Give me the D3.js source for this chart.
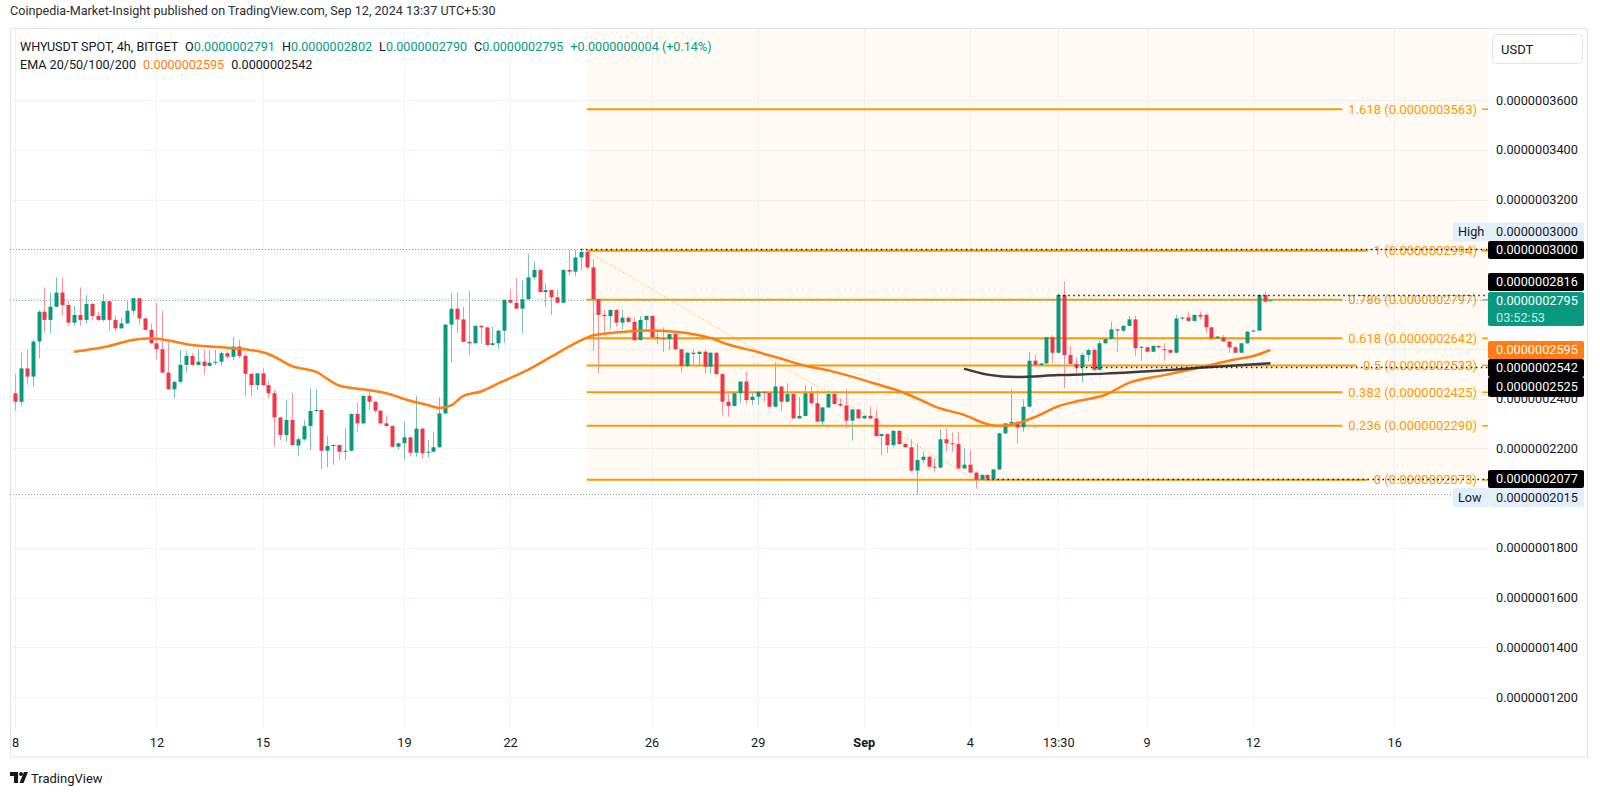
<!DOCTYPE html>
<html>
<head>
<meta charset="utf-8">
<script src="https://cdn.jsdelivr.net/npm/d3@7"></script>
<style>
  body { margin: 0; background: #fff; }
  svg { display: block; font-family: Roboto, "Noto Sans", sans-serif; }
</style>
</head>
<body>
<svg id="chart" width="1600" height="796"></svg>
<script>
// WHYUSDT 4h candles, prices in units of 1e-10 USDT, first bar Aug 8 01:30
var opens = [2421,2387,2521,2488,2629,2749,2716,2769,2826,2776, 2705,2736,2716,2780,2732,2716,2791,2716,2682,2702,
  2753,2803,2722,2676,2622,2598,2504,2437,2467,2535, 2571,2535,2548,2531,2544,2548,2582,2568,2609,2571,
  2499,2454,2501,2454,2421,2324,2253,2314,2211,2236, 2289,2350,2354,2190,2209,2213,2186,2190,2338,2300,
  2411,2387,2351,2300,2289,2206,2220,2244,2182,2279, 2182,2186,2204,2340,2697,2761,2718,2628,2622,2692,
  2686,2615,2622,2673,2796,2785,2761,2799,2887,2917, 2828,2836,2807,2785,2917,2910,2967,2989,2927,2799,
  2736,2731,2756,2705,2725,2708,2635,2716,2732,2646, 2642,2638,2659,2598,2531,2584,2579,2588,2528,2584,
  2498,2387,2370,2421,2468,2394,2407,2427,2423,2367, 2448,2387,2418,2320,2330,2421,2381,2307,2364,2418,
  2378,2372,2311,2356,2320,2330,2320,2249,2257,2213, 2270,2217,2204,2110,2153,2166,2126,2122,2236,2220,
  2217,2119,2134,2102,2073,2093,2077,2115,2260,2300, 2306,2284,2367,2552,2535,2541,2646,2584,2816,2575,
  2539,2525,2575,2595,2515,2622,2639,2678,2673,2692, 2718,2604,2606,2588,2611,2598,2595,2584,2722,2726,
  2712,2736,2736,2686,2642,2646,2629,2606,2584,2622, 2669,2673,2816,2791];
var highs = [2499,2584,2598,2638,2755,2847,2826,2887,2887,2790, 2772,2847,2816,2785,2749,2820,2795,2732,2726,2791,
  2805,2805,2725,2702,2785,2753,2635,2470,2595,2592, 2582,2598,2598,2595,2595,2590,2590,2646,2635,2579,
  2502,2503,2521,2470,2434,2326,2392,2421,2245,2314, 2441,2437,2356,2249,2216,2215,2280,2340,2385,2411,
  2434,2390,2353,2332,2291,2222,2307,2246,2410,2281, 2233,2267,2405,2700,2825,2825,2769,2832,2694,2694,
  2688,2689,2675,2798,2839,2883,2876,2981,2949,2919, 2863,2838,2838,2919,2997,2997,3000,2994,2960,2801,
  2756,2758,2758,2756,2727,2725,2732,2734,2734,2675, 2686,2661,2661,2600,2586,2598,2590,2595,2586,2586,
  2500,2418,2423,2470,2508,2423,2429,2429,2425,2544, 2450,2461,2420,2407,2454,2450,2434,2366,2434,2420,
  2401,2437,2358,2358,2332,2367,2354,2259,2259,2272, 2272,2222,2236,2220,2186,2168,2160,2276,2280,2263,
  2267,2200,2193,2104,2095,2095,2117,2262,2302,2437, 2308,2397,2588,2575,2543,2648,2655,2823,2870,2611,
  2565,2584,2602,2600,2633,2641,2709,2682,2694,2732, 2732,2610,2608,2615,2615,2622,2597,2736,2728,2749,
  2738,2749,2740,2688,2651,2655,2631,2611,2624,2671, 2678,2818,2830,2802];
var lows = [2351,2371,2454,2448,2562,2669,2662,2767,2736,2692, 2692,2692,2700,2713,2712,2709,2673,2669,2680,2698,
  2736,2696,2674,2620,2558,2502,2435,2401,2461,2504, 2532,2532,2495,2529,2535,2531,2560,2555,2560,2408,
  2408,2434,2450,2401,2207,2233,2227,2210,2169,2230, 2193,2345,2115,2123,2133,2153,2153,2186,2264,2298,
  2354,2343,2298,2287,2204,2193,2153,2169,2166,2158, 2163,2184,2202,2338,2544,2662,2626,2575,2620,2622,
  2613,2613,2598,2624,2783,2759,2662,2797,2879,2826, 2769,2736,2783,2783,2896,2892,2914,2920,2592,2501,
  2659,2678,2689,2678,2706,2628,2633,2675,2644,2619, 2588,2595,2596,2504,2525,2528,2528,2501,2501,2496,
  2334,2327,2368,2381,2378,2374,2374,2387,2356,2365, 2351,2385,2318,2318,2328,2379,2305,2293,2362,2376,
  2366,2280,2230,2318,2318,2318,2247,2173,2180,2204, 2215,2202,2106,2015,2139,2124,2106,2120,2186,2186,
  2117,2117,2100,2038,2071,2075,2075,2113,2258,2298, 2220,2267,2365,2533,2533,2539,2541,2582,2441,2537,
  2501,2464,2548,2513,2513,2620,2637,2588,2667,2690, 2571,2552,2586,2586,2604,2552,2580,2582,2713,2710,
  2710,2718,2662,2640,2640,2627,2584,2582,2582,2620, 2667,2671,2787,2790];
var closes = [2387,2521,2488,2629,2749,2716,2769,2826,2776,2705, 2736,2716,2780,2732,2716,2791,2716,2682,2702,2753,
  2803,2722,2676,2622,2598,2504,2437,2467,2535,2571, 2535,2548,2531,2544,2548,2582,2568,2609,2571,2499,
  2454,2501,2454,2421,2324,2253,2314,2213,2236,2289, 2350,2354,2190,2209,2213,2186,2190,2338,2300,2411,
  2387,2351,2300,2289,2206,2220,2244,2182,2279,2180, 2186,2204,2340,2697,2761,2718,2628,2622,2692,2686,
  2615,2622,2673,2796,2785,2761,2799,2887,2917,2828, 2836,2807,2785,2917,2910,2967,2989,2927,2799,2736,
  2731,2756,2705,2725,2708,2635,2716,2732,2646,2642, 2638,2659,2598,2531,2584,2579,2588,2528,2584,2498,
  2387,2370,2421,2468,2394,2407,2427,2423,2367,2448, 2387,2418,2320,2330,2421,2381,2307,2364,2418,2378,
  2372,2311,2356,2320,2330,2320,2249,2257,2213,2270, 2217,2204,2110,2153,2166,2126,2122,2236,2220,2217,
  2119,2134,2102,2073,2093,2077,2115,2260,2300,2306, 2284,2367,2552,2535,2541,2646,2584,2816,2575,2539,
  2525,2575,2595,2515,2622,2639,2678,2673,2692,2718, 2602,2608,2588,2611,2606,2595,2584,2722,2726,2712,
  2736,2729,2686,2642,2649,2629,2606,2584,2622,2669, 2673,2816,2789,2795];

// EMA lines (bar index, value)
var emaFastIdx = [10,15,20,23,26,30,35,40,43,47,51,55,60,63,67,70,72,74,76,79,82,87,91,95,98,101,104,107,112,116,118,121,126,130,134,138,144,147,150,154,156,161,165,167,170,173,177,180,185,189,195,201,207,210,213];
var emaFastVal = [2588,2606,2635,2642,2633,2615,2606,2595,2579,2530,2508,2452,2434,2421,2391,2374,2362,2372,2410,2428,2461,2515,2568,2622,2653,2663,2669,2673,2668,2654,2643,2617,2587,2560,2532,2513,2474,2452,2430,2390,2368,2334,2297,2290,2300,2325,2369,2388,2415,2463,2494,2525,2557,2570,2595];
var emaSlowIdx = [161,165,170,177,185,196,205,213];
var emaSlowVal = [2520,2496,2486,2494,2500,2515,2530,2542];

// fib retracement
var fibRatios = ['1.618','1','0.786','0.618','0.5','0.382','0.236','0'];
var fibPrices = [3563,2994,2797,2642,2533,2425,2290,2073];
var fibFrom = 97, fibTo = 163;

// horizontal lines
var hLinePrices = [3000,2816,2525,2077];
var hLineFrom = [96,177,180,165];

var priceTicks = d3.range(1200, 3601, 200);
var tickDates = ['2024-08-08T01:30:00Z','2024-08-12T01:30:00Z','2024-08-15T01:30:00Z','2024-08-19T01:30:00Z',
  '2024-08-22T01:30:00Z','2024-08-26T01:30:00Z','2024-08-29T01:30:00Z','2024-09-01T01:30:00Z',
  '2024-09-04T01:30:00Z','2024-09-06T13:30:00Z','2024-09-09T01:30:00Z','2024-09-12T01:30:00Z','2024-09-16T01:30:00Z'];
var tickLabels = ['8','12','15','19','22','26','29','Sep','4','13:30','9','12','16'];

var up = '#089981', down = '#f23645', ink = '#131722';
var paneL = 10, paneR = 1488, paneT = 29, paneB = 727;

var start = Date.UTC(2024, 7, 8, 1, 30), H4 = 4 * 3600 * 1000;
var time = function(i) { return new Date(start + i * H4); };
var fmt = function(v) { return (v / 1e10).toFixed(10); };

var x = d3.scaleUtc().domain([time(0), time(opens.length - 1)]).range([15, 1270.4]);
var y = d3.scaleLinear().domain([1200, 3600]).range([697, 100]);

var svg = d3.select('#chart');

svg.append('defs').append('clipPath').attr('id', 'pane')
  .append('rect').attr('x', paneL).attr('y', paneT).attr('width', paneR - paneL).attr('height', paneB - paneT);

// frame
svg.append('rect').attr('x', 10.5).attr('y', 28.5).attr('width', 1577).attr('height', 728.5)
  .attr('fill', 'none').attr('stroke', '#e0e3eb');

// grid
var grid = svg.append('g');
grid.selectAll('.vg').data(tickDates).enter().append('line')
  .attr('x1', function(d) { return Math.round(x(new Date(d))) + 0.5; })
  .attr('x2', function(d) { return Math.round(x(new Date(d))) + 0.5; })
  .attr('y1', paneT).attr('y2', paneB).attr('stroke', '#f0f3fa');
grid.selectAll('.hg').data(priceTicks).enter().append('line')
  .attr('x1', paneL).attr('x2', paneR)
  .attr('y1', function(d) { return Math.round(y(d)) + 0.5; })
  .attr('y2', function(d) { return Math.round(y(d)) + 0.5; })
  .attr('stroke', '#f0f3fa');

var plot = svg.append('g').attr('clip-path', 'url(#pane)');

// fib background + levels
var fx0 = x(time(fibFrom));
plot.append('rect').attr('x', fx0).attr('y', paneT).attr('width', paneR - fx0)
  .attr('height', y(fibPrices[fibPrices.length - 1]) - paneT).attr('fill', 'rgba(255,152,0,0.045)');

var fib = plot.append('g');
fibRatios.forEach(function(r, i) {
  var yy = y(fibPrices[i]);
  var t = fib.append('text').attr('x', 1477).attr('y', yy).attr('dy', '0.35em')
    .attr('text-anchor', 'end').attr('font-size', 13).attr('fill', '#ff9800')
    .text(r + ' (' + fmt(fibPrices[i]) + ')');
  var w = t.node().getComputedTextLength();
  fib.append('line').attr('x1', fx0).attr('x2', 1477 - w - 6).attr('y1', yy).attr('y2', yy)
    .attr('stroke', '#ff9800').attr('stroke-width', 2);
  fib.append('line').attr('x1', 1482).attr('x2', paneR).attr('y1', yy).attr('y2', yy)
    .attr('stroke', '#ff9800').attr('stroke-width', 1.5);
});
plot.append('line')
  .attr('x1', x(time(fibFrom))).attr('y1', y(fibPrices[1]))
  .attr('x2', x(time(fibTo))).attr('y2', y(fibPrices[7]))
  .attr('stroke', '#ff9800').attr('stroke-dasharray', '1 2').attr('opacity', 0.8);

// high / low / last price lines
[[3000, '#9598a1'], [2015, '#9598a1'], [closes[closes.length - 1], '#7fb8ab']].forEach(function(d) {
  plot.append('line').attr('x1', paneL).attr('x2', paneR)
    .attr('y1', Math.round(y(d[0])) + 0.5).attr('y2', Math.round(y(d[0])) + 0.5)
    .attr('stroke', d[1]).attr('stroke-dasharray', '1 2');
});

// candles
var bars = plot.append('g').selectAll('g').data(opens).enter().append('g');
bars.append('line')
  .attr('x1', function(d, i) { return Math.round(x(time(i))) + 0.5; })
  .attr('x2', function(d, i) { return Math.round(x(time(i))) + 0.5; })
  .attr('y1', function(d, i) { return y(highs[i]); })
  .attr('y2', function(d, i) { return y(lows[i]); })
  .attr('stroke', function(d, i) { return closes[i] >= d ? '#7cc2b4' : '#f6949d'; });
bars.append('rect')
  .attr('x', function(d, i) { return Math.round(x(time(i))) - 1.5; })
  .attr('width', 4)
  .attr('y', function(d, i) { return y(Math.max(d, closes[i])); })
  .attr('height', function(d, i) { return Math.max(1, Math.abs(y(d) - y(closes[i]))); })
  .attr('fill', function(d, i) { return closes[i] >= d ? up : down; });

// EMAs
var emaLine = d3.line().curve(d3.curveMonotoneX)
  .x(function(d) { return x(time(d[0])); }).y(function(d) { return y(d[1]); });
plot.append('path').datum(d3.zip(emaFastIdx, emaFastVal)).attr('d', emaLine)
  .attr('fill', 'none').attr('stroke', '#ff7d12').attr('stroke-width', 2.5);
plot.append('path').datum(d3.zip(emaSlowIdx, emaSlowVal)).attr('d', emaLine)
  .attr('fill', 'none').attr('stroke', '#3d3d3d').attr('stroke-width', 2.5);

// dotted horizontal lines
hLinePrices.forEach(function(p, i) {
  plot.append('line').attr('x1', x(time(hLineFrom[i]))).attr('x2', paneR)
    .attr('y1', Math.round(y(p)) + 0.5).attr('y2', Math.round(y(p)) + 0.5)
    .attr('stroke', ink).attr('stroke-width', 1.5).attr('stroke-dasharray', '1.5 3.5');
});

// axes
var xAxis = svg.append('g').attr('transform', 'translate(0,' + paneB + ')')
  .call(d3.axisBottom(x).tickValues(tickDates.map(function(d) { return new Date(d); }))
    .tickFormat(function(d, i) { return tickLabels[i]; }).tickSize(0).tickPadding(10.5));
xAxis.select('.domain').remove();
xAxis.selectAll('text').attr('font-family', 'Roboto').attr('font-size', 12.7).attr('fill', ink)
  .attr('font-weight', function(d, i) { return tickLabels[i] === 'Sep' ? 'bold' : null; });

var yAxis = svg.append('g').attr('transform', 'translate(' + paneR + ',0)')
  .call(d3.axisRight(y).tickValues(priceTicks).tickFormat(fmt).tickSize(0).tickPadding(8));
yAxis.select('.domain').remove();
yAxis.selectAll('text').attr('font-family', 'Roboto').attr('font-size', 12.7).attr('fill', ink);

// price labels on the axis
var tags = svg.append('g').attr('font-size', 12.7);
function tag(cy, h, fill, text, color) {
  tags.append('rect').attr('x', 1488).attr('y', cy - h / 2).attr('width', 96).attr('height', h)
    .attr('rx', 2).attr('fill', fill);
  tags.append('text').attr('x', 1496).attr('y', cy).attr('dy', '0.35em').attr('fill', color || '#fff').text(text);
}
function sideTag(cy, text) {
  tags.append('rect').attr('x', 1453).attr('y', cy - 9.5).attr('width', 35).attr('height', 19)
    .attr('rx', 2).attr('fill', '#e3effd');
  tags.append('text').attr('x', 1458).attr('y', cy).attr('dy', '0.35em').attr('fill', ink).text(text);
}
sideTag(232, 'High');
tag(232, 19, '#e3effd', fmt(3000), ink);
tag(250, 18, '#000', fmt(3000));
tag(282, 18, '#000', fmt(2816));
tags.append('rect').attr('x', 1488).attr('y', 292).attr('width', 96).attr('height', 34).attr('rx', 2).attr('fill', up);
tags.append('text').attr('x', 1496).attr('y', 301).attr('dy', '0.35em').attr('fill', '#fff').text(fmt(closes[closes.length - 1]));
tags.append('text').attr('x', 1496).attr('y', 318).attr('dy', '0.35em').attr('fill', 'rgba(255,255,255,0.8)').text('03:52:53');
tag(350, 18, '#ff7d12', fmt(emaFastVal[emaFastVal.length - 1]));
tag(368, 18, '#000', fmt(emaSlowVal[emaSlowVal.length - 1]));
tag(387, 20, '#000', fmt(2525));
tag(479, 18, '#000', fmt(2077));
sideTag(497.5, 'Low');
tag(497.5, 19, '#e3effd', fmt(2015), ink);

// USDT button
svg.append('rect').attr('x', 1492.5).attr('y', 34.5).attr('width', 90).attr('height', 29).attr('rx', 4)
  .attr('fill', '#fff').attr('stroke', '#e0e3eb');
svg.append('text').attr('x', 1501).attr('y', 49).attr('dy', '0.35em').attr('font-size', 13).attr('fill', ink).text('USDT');

// header
svg.append('text').attr('x', 10).attr('y', 11).attr('dy', '0.35em').attr('font-size', 12.6).attr('fill', '#2a2e39')
  .text('Coinpedia-Market-Insight published on TradingView.com, Sep 12, 2024 13:37 UTC+5:30');

var legend = svg.append('text').attr('x', 20).attr('y', 47).attr('dy', '0.35em').attr('font-size', 12.6).attr('fill', ink);
legend.append('tspan').text('WHYUSDT SPOT, 4h, BITGET');
[['O', opens], ['H', highs], ['L', lows], ['C', closes]].forEach(function(d) {
  legend.append('tspan').attr('dx', 7).text(d[0]);
  legend.append('tspan').attr('fill', up).text(fmt(d[1][d[1].length - 1]));
});
legend.append('tspan').attr('dx', 7).attr('fill', up).text('+' + fmt(closes[closes.length - 1] - opens[opens.length - 1]) + ' (+0.14%)');

var emaLegend = svg.append('text').attr('x', 20).attr('y', 65).attr('dy', '0.35em').attr('font-size', 12.6).attr('fill', ink);
emaLegend.append('tspan').text('EMA 20/50/100/200');
emaLegend.append('tspan').attr('dx', 7).attr('fill', '#ff7d12').text(fmt(emaFastVal[emaFastVal.length - 1]));
emaLegend.append('tspan').attr('dx', 7).text(fmt(emaSlowVal[emaSlowVal.length - 1]));

// TradingView logo
var logo = svg.append('g').attr('fill', ink);
logo.append('path').attr('d', 'M10,772 h8 v11 h-4 v-7 h-4 z');
logo.append('circle').attr('cx', 21).attr('cy', 774).attr('r', 2);
logo.append('path').attr('d', 'M24,772 h4 l-4.5,11 h-4 z');
svg.append('text').attr('x', 31).attr('y', 778).attr('dy', '0.35em').attr('font-size', 13).attr('fill', ink).text('TradingView');
</script>
</body>
</html>
